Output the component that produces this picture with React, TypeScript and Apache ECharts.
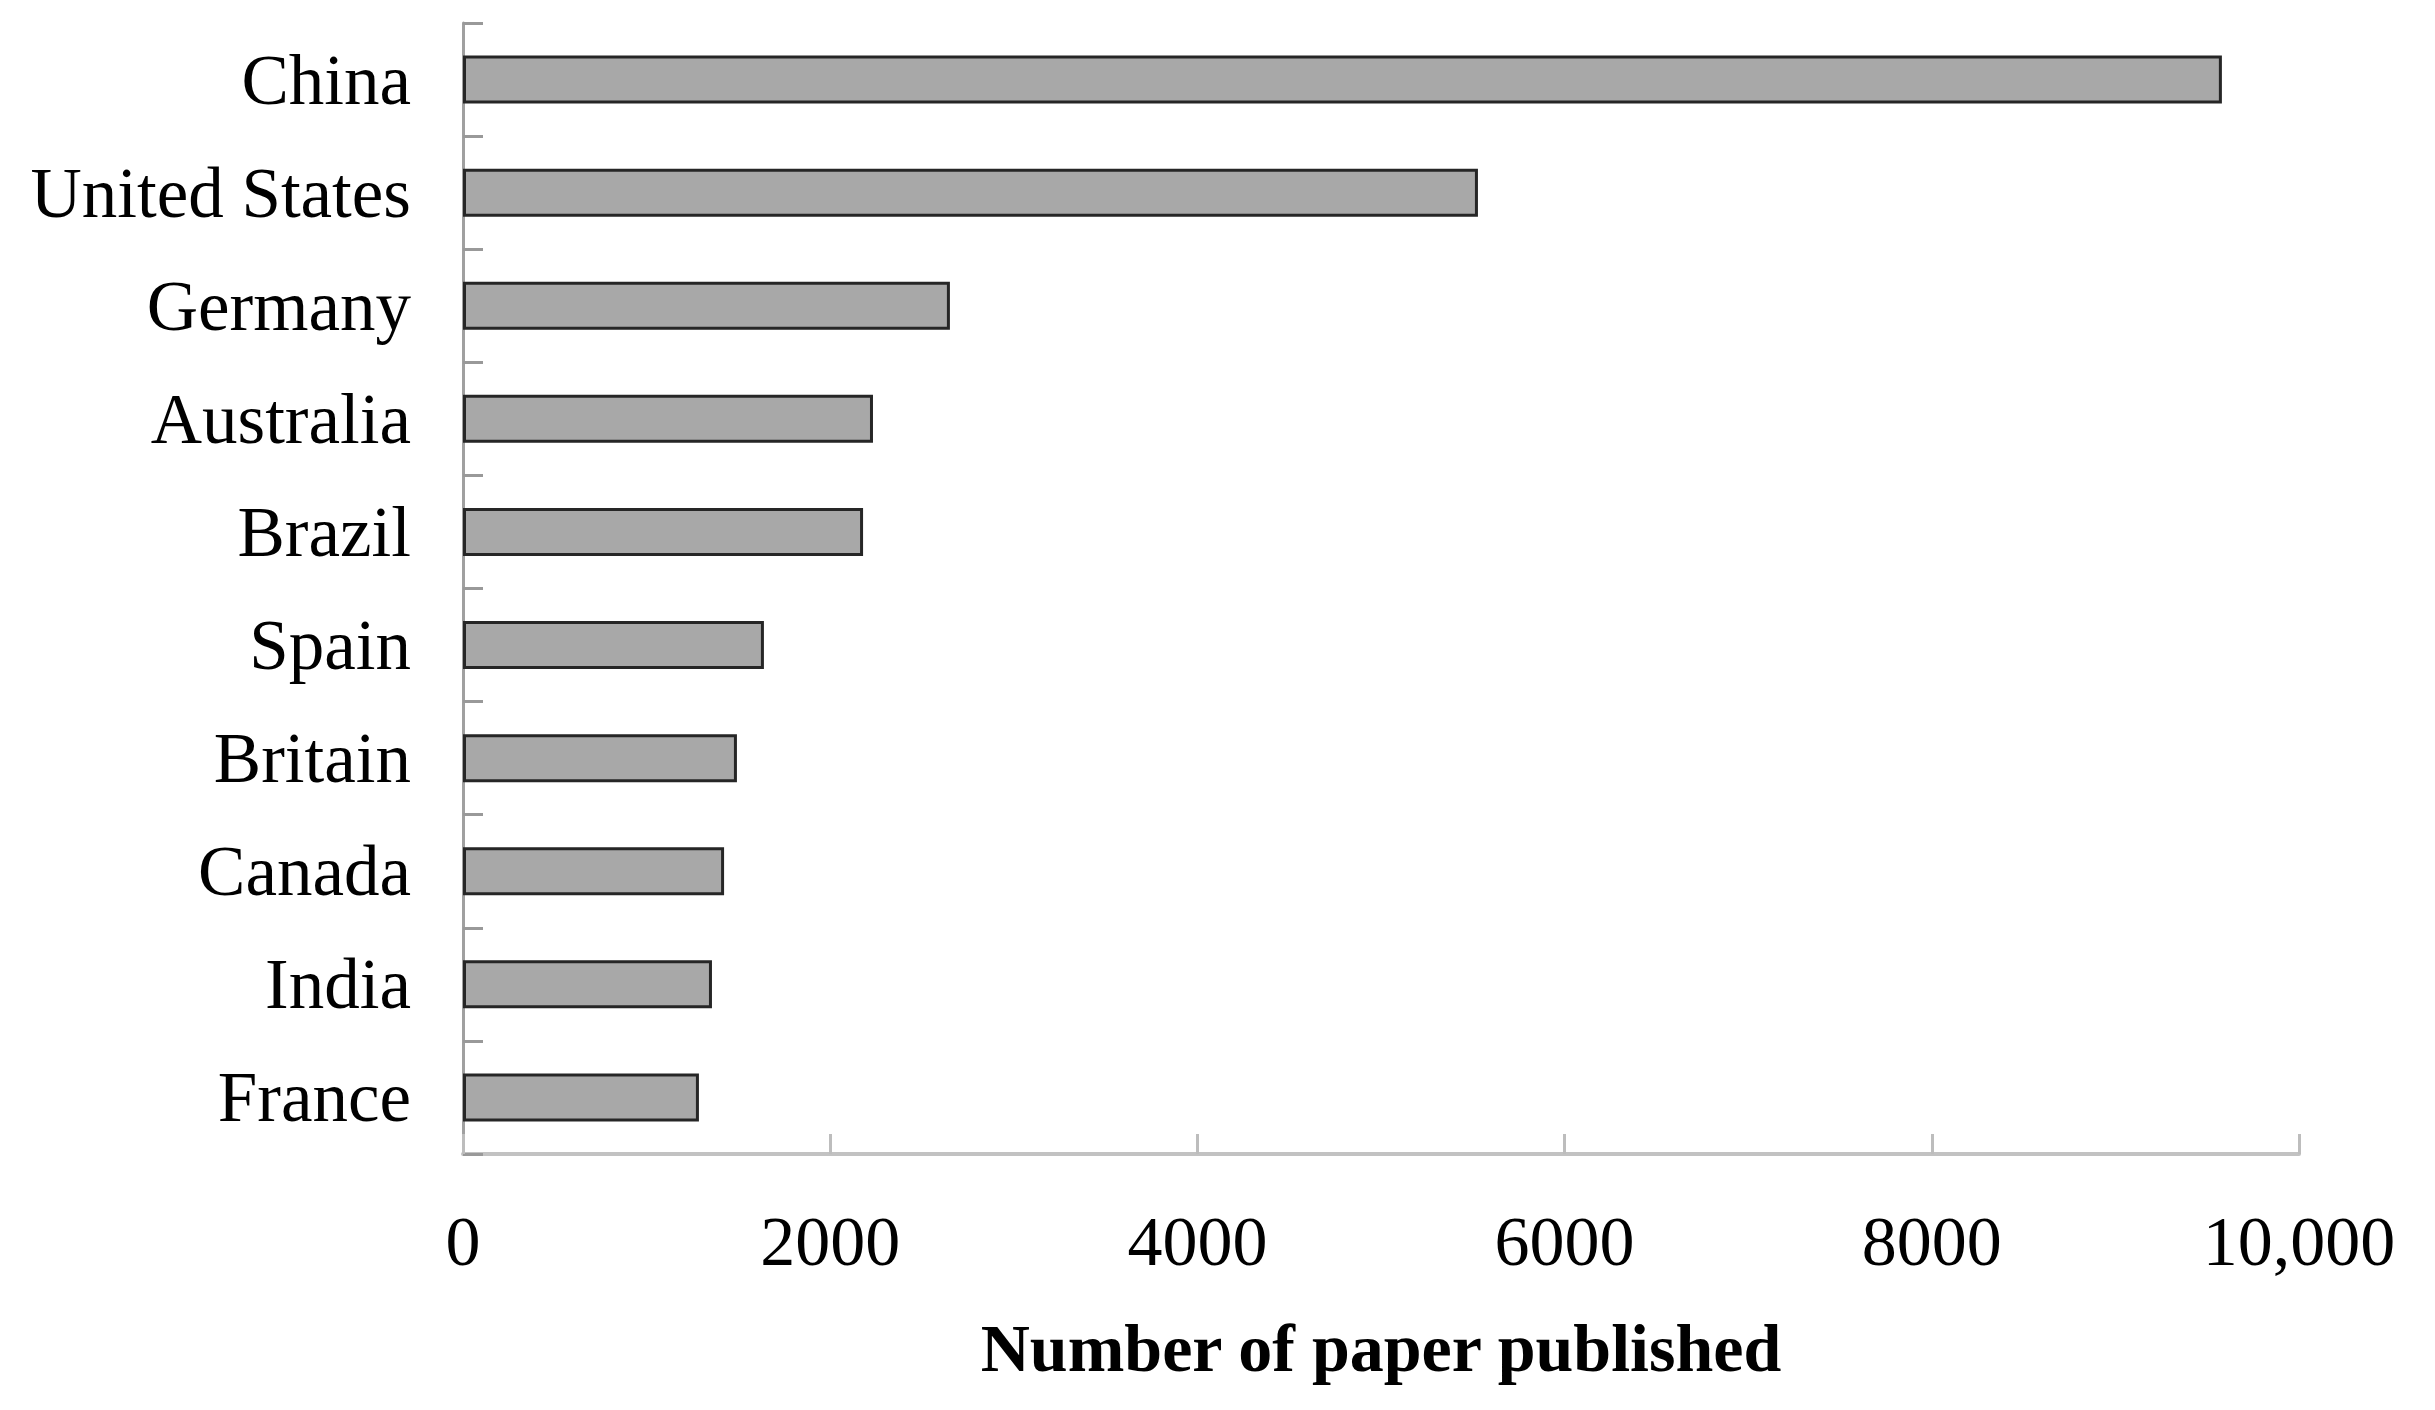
import React, { useEffect, useRef } from "react";
import * as echarts from "echarts";

const countries = [
  "China",
  "United States",
  "Germany",
  "Australia",
  "Brazil",
  "Spain",
  "Britain",
  "Canada",
  "India",
  "France",
];
const papers = [9580, 5528, 2652, 2233, 2179, 1639, 1492, 1422, 1356, 1285];
const xTickLabels = ["0", "2000", "4000", "6000", "8000", "10,000"];
const xMin = 0;
const xMax = 10000;
const xStep = 2000;
const xAxisName = "Number of paper published";

const FONT = "'Liberation Serif', 'Times New Roman', serif";

export default function App() {
  const ref = useRef<HTMLDivElement>(null);

  useEffect(() => {
    if (!ref.current) return;
    const chart = echarts.init(ref.current, null, { renderer: "svg" });
    chart.setOption({
      animation: false,
      backgroundColor: "#ffffff",
      grid: { left: 463, right: 136, top: 23, bottom: 256, containLabel: false },
      xAxis: {
        type: "value",
        min: xMin,
        max: xMax,
        interval: xStep,
        name: xAxisName,
        nameLocation: "middle",
        nameGap: 160,
        nameTextStyle: {
          fontFamily: FONT,
          fontWeight: "bold",
          fontSize: 68,
          color: "#000",
        },
        axisLine: { show: true, lineStyle: { color: "#c2c2c2", width: 4 } },
        axisTick: {
          show: true,
          inside: true,
          length: 20,
          lineStyle: { color: "#bdbdbd", width: 3 },
        },
        axisLabel: {
          margin: 52,
          fontFamily: FONT,
          fontSize: 70,
          color: "#000",
          formatter: (v: number) => xTickLabels[Math.round((v - xMin) / xStep)] ?? String(v),
        },
        splitLine: { show: false },
      },
      yAxis: {
        type: "category",
        data: countries,
        inverse: true,
        axisLine: { show: true, lineStyle: { color: "#a0a0a0", width: 3 } },
        axisTick: {
          show: true,
          inside: true,
          length: 20,
          lineStyle: { color: "#999999", width: 3 },
        },
        axisLabel: {
          margin: 52,
          padding: [16, 0, 0, 0],
          fontFamily: FONT,
          fontSize: 71,
          color: "#000",
        },
        splitLine: { show: false },
      },
      series: [
        {
          type: "bar",
          data: papers,
          barWidth: 48,
          itemStyle: {
            color: "#a8a8a8",
            borderColor: "#262626",
            borderWidth: 3,
          },
        },
      ],
    });
    return () => chart.dispose();
  }, []);

  return (
    <div
      ref={ref}
      style={{ position: "fixed", left: 0, top: 0, width: 2435, height: 1410, background: "#fff" }}
    />
  );
}
